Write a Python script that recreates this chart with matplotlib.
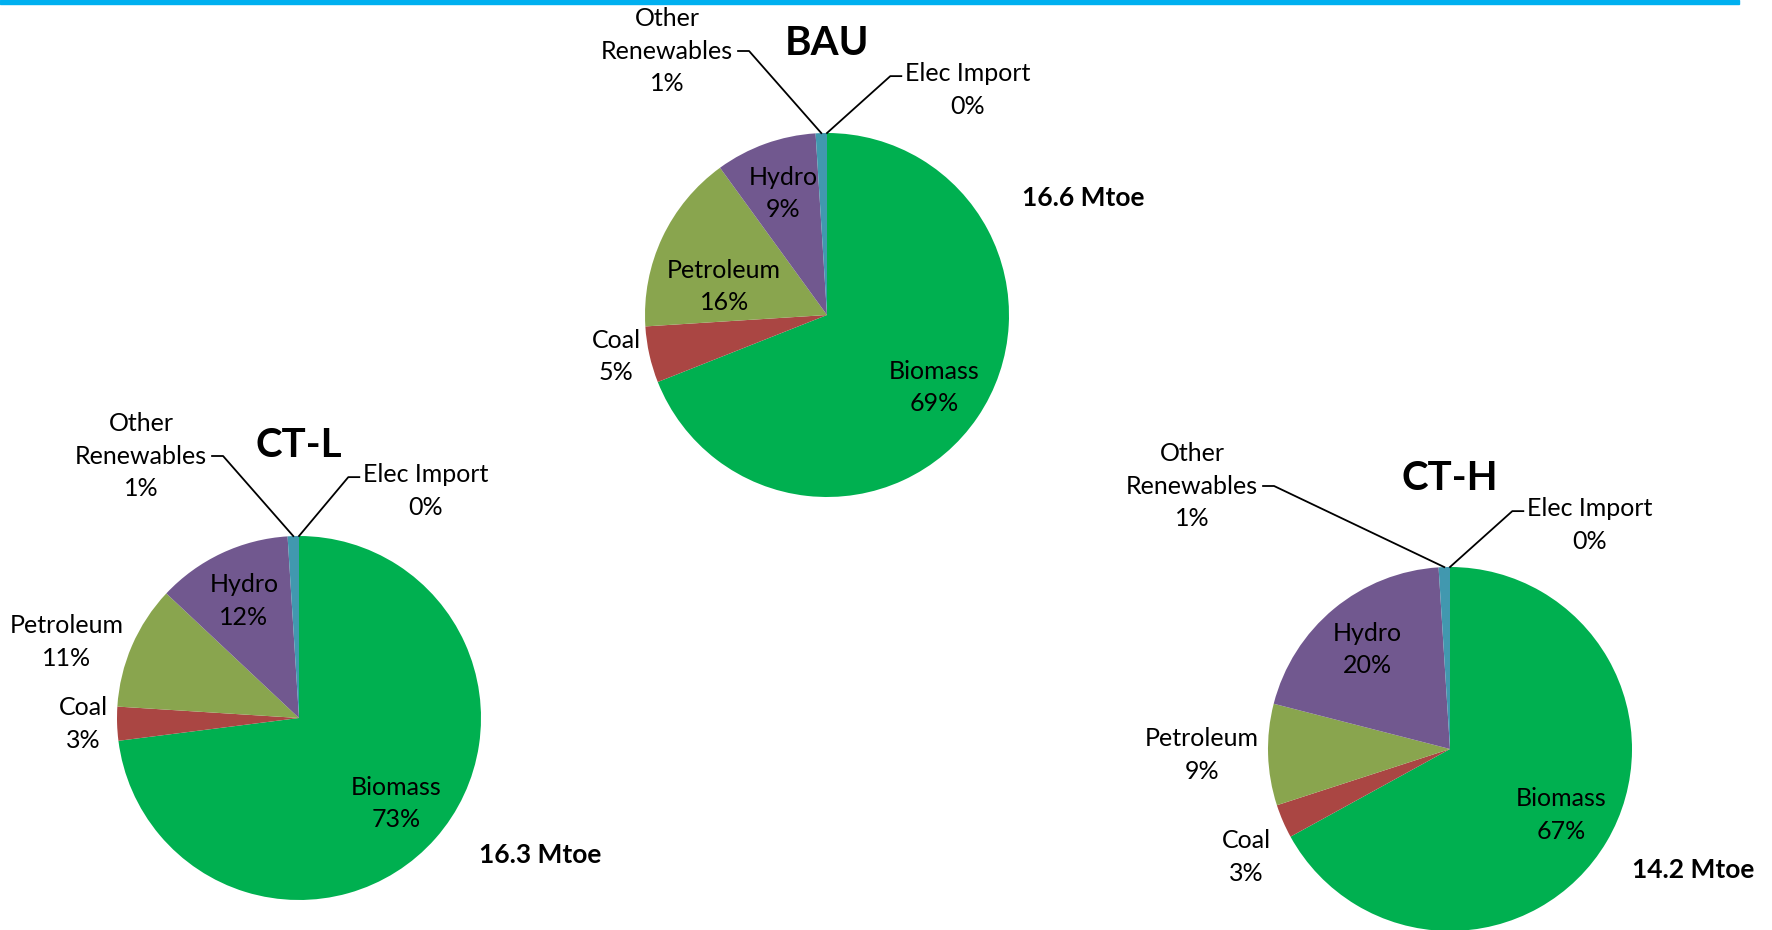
import numpy as np
import matplotlib.pyplot as plt
from matplotlib.patches import Rectangle

plt.rcParams['font.family'] = ['Lato', 'DejaVu Sans']

# energy mix by scenario (% of total primary energy supply)
sources = ["Biomass", "Coal", "Petroleum", "Hydro", "Other\nRenewables", "Elec Import"]
scenarios = ["BAU", "CT-L", "CT-H"]
bau_share = [69, 5, 16, 9, 1, 0]
ctl_share = [73, 3, 11, 12, 1, 0]
cth_share = [67, 3, 9, 20, 1, 0]
totals_mtoe = [16.6, 16.3, 14.2]

colors = ["#00B050", "#AA4643", "#89A54E", "#71588F", "#4198AF", "#4572A7"]

W, H = 1772, 930
R = 182
# pie layout, pixel coords from the top left
centers = [(827, 315), (299, 718), (1450, 749)]
title_pos = [(827, 43), (299, 445), (1450, 478)]
total_pos = [(1083, 198), (540, 855), (1693, 870)]
other_off = [(-160, -264), (-158, -262), (-258, -263)]
elec_off = [(141, -225), (127, -227), (140, -224)]
# where the big-slice labels go: inside at given radius fraction, or "out"
label_mode = [
    {"Biomass": 0.71, "Coal": "out", "Petroleum": 0.6, "Hydro": 0.71},
    {"Biomass": 0.71, "Coal": "out", "Petroleum": "out", "Hydro": 0.71},
    {"Biomass": 0.71, "Coal": "out", "Petroleum": "out", "Hydro": 0.71},
]
# extra shifts (px, down positive) for labels that would sit too close
nudge = {(0, "Petroleum"): (-4, 18), (2, "Coal"): (-4, 32)}

fig = plt.figure(figsize=(W / 100, H / 100), dpi=100)
ax = fig.add_axes([0, 0, 1, 1])

FS = 18
LS = 1.5
shares = [bau_share, ctl_share, cth_share]
leaders = []
for k, vals in enumerate(shares):
    cx, cy = centers[k][0], H - centers[k][1]
    ax.pie(vals, colors=colors, startangle=90, counterclock=False,
           center=(cx, cy), radius=R, frame=True,
           wedgeprops=dict(linewidth=0))

    frac = np.cumsum([0] + vals) / sum(vals)
    for i, name in enumerate(sources):
        mid = np.pi * (frac[i] + frac[i + 1])
        dx, dy = np.sin(mid), np.cos(mid)
        txt = f"{name}\n{vals[i]}%"
        mode = label_mode[k].get(name)
        if mode is None:
            continue
        nx, ny = nudge.get((k, name), (0, 0))
        if mode == "out":
            ax.text(cx + 1.05 * R * dx + nx, cy + 1.05 * R * dy - ny, txt,
                    ha="right" if dx < 0 else "left", va="center",
                    multialignment="center", fontsize=FS, linespacing=LS)
        else:
            ax.text(cx + mode * R * dx + nx, cy + mode * R * dy - ny, txt,
                    ha="center", va="center", fontsize=FS, linespacing=LS)

    # tiny slices get labels pulled out with leader lines
    mid_o = np.pi * (frac[4] + frac[5])
    mid_e = np.pi * (frac[5] + frac[6])
    t_o = ax.text(cx + other_off[k][0], cy - other_off[k][1],
                  f"{sources[4]}\n{vals[4]}%", ha="center", va="center",
                  fontsize=FS, linespacing=LS)
    t_e = ax.text(cx + elec_off[k][0], cy - elec_off[k][1],
                  f"{sources[5]}\n{vals[5]}%", ha="center", va="center",
                  fontsize=FS, linespacing=LS)
    leaders.append((t_o, t_e, (cx + R * np.sin(mid_o), cy + R * np.cos(mid_o)),
                    (cx + R * np.sin(mid_e), cy + R * np.cos(mid_e))))

    ax.text(title_pos[k][0], H - title_pos[k][1], scenarios[k],
            ha="center", va="center", fontsize=29, fontweight="bold")
    ax.text(total_pos[k][0], H - total_pos[k][1], f"{totals_mtoe[k]} Mtoe",
            ha="center", va="center", fontsize=19, fontweight="bold")

ax.set_xlim(0, W)
ax.set_ylim(0, H)
ax.set_aspect("equal")
ax.axis("off")

# accent bar across the top
ax.add_patch(Rectangle((0, H - 4), 1739, 4, color="#00B0F0", clip_on=False))

fig.canvas.draw()
inv = ax.transData.inverted()
for t_o, t_e, p_o, p_e in leaders:
    (x0, y0), (x1, y1) = inv.transform(t_o.get_window_extent())
    ym = (y0 + y1) / 2
    ax.plot([x1 + 5, x1 + 16, p_o[0]], [ym, ym, p_o[1]], color="black", lw=1.3)
    (x0, y0), (x1, y1) = inv.transform(t_e.get_window_extent())
    yl = y1 - (y1 - y0) / 4
    ax.plot([x0 - 4, x0 - 15, p_e[0]], [yl, yl, p_e[1]], color="black", lw=1.3)

fig.savefig("out.png", dpi=100, facecolor="white")
